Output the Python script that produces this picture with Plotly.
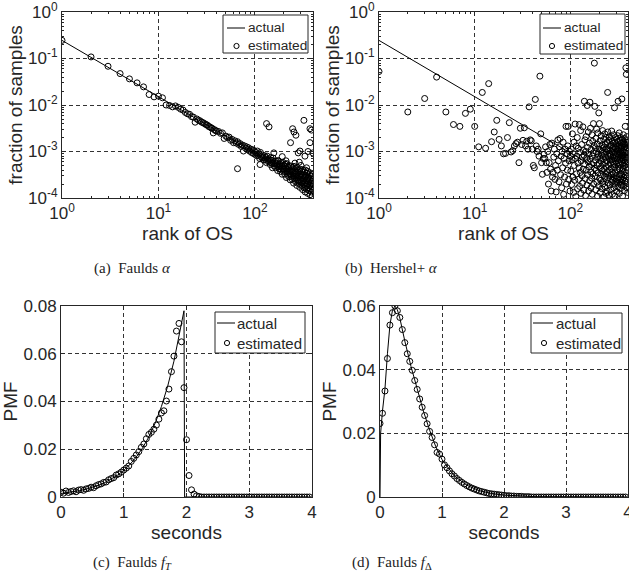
import plotly.graph_objects as go

# ---------------- data ----------------
# (a) Faulds alpha : actual Zipf line and estimated points (log10 of fraction)
rank_actual = [1, 10, 100, 400]
frac_actual = [0.245, 0.0151, 0.00093, 0.000174]

faulds_rank = list(range(1, 41)) + list(range(42, 401, 2))
faulds_log = [
    -0.61, -0.966, -1.167, -1.324, -1.438, -1.524, -1.61, -1.775, -1.825, -1.81,
    -1.845, -2.00, -2.01, -2.04, -2.02, -2.05, -2.09, -2.11, -2.16, -2.19,
    -2.20, -2.25, -2.26, -2.37, -2.30, -2.33, -2.34, -2.37, -2.38, -2.40,
    -2.42, -2.43, -2.46, -2.47, -2.49, -2.50, -2.60, -2.53, -2.55, -2.56,
    -2.57, -2.61, -2.60, -2.72, -2.67, -2.70, -2.69, -2.76, -2.74, -2.81,
    -2.77, -2.82, -2.79, -2.85, -2.83, -2.89, -2.86, -2.99, -2.88, -2.93,
    -2.90, -2.96, -2.92, -2.99, -2.95, -3.02, -2.96, -3.04, -2.98, -3.06,
    -3.02, -3.09, -2.99, -3.08, -3.05, -3.15, -3.02, -3.11, -3.14, -3.08,
    -3.12, -3.18, -3.09, -3.17, -3.13, -3.24, -3.10, -3.19, -3.22, -3.16,
    -3.19, -3.28, -3.13, -3.25, -3.19, -3.35, -3.14, -3.26, -3.31, -3.21,
    -3.26, -3.35, -3.20, -3.31, -3.26, -3.41, -3.20, -3.33, -3.37, -3.27,
    -3.31, -3.43, -3.24, -3.38, -3.31, -3.49, -3.23, -3.38, -3.43, -3.30,
    -3.37, -3.49, -3.27, -3.43, -3.35, -3.56, -3.26, -3.43, -3.49, -3.34,
    -3.42, -3.54, -3.32, -3.48, -3.40, -3.61, -3.31, -3.48, -3.54, -3.39,
    -3.45, -3.60, -3.34, -3.53, -3.43, -3.68, -3.32, -3.52, -3.59, -3.41,
    -3.49, -3.65, -3.37, -3.57, -3.46, -3.73, -3.34, -3.56, -3.63, -3.44,
    -3.53, -3.69, -3.41, -3.61, -3.50, -3.77, -3.38, -3.60, -3.67, -3.48,
    -3.56, -3.73, -3.43, -3.64, -3.53, -3.82, -3.39, -3.63, -3.71, -3.50,
    -3.59, -3.78, -3.44, -3.68, -3.55, -3.87, -3.40, -3.67, -3.75, -3.52,
    -3.62, -3.81, -3.47, -3.71, -3.58, -3.90, -3.43, -3.70, -3.78, -3.55,
    -3.65, -3.84, -3.50, -3.74, -3.61, -3.93, -3.46, -3.73, -3.81, -3.58,
    -3.68, -3.87, -3.53, -3.77, -3.64, -3.96, -3.49, -3.75, -3.83, -3.60,
]
faulds_out_rank = [66, 113, 132, 140, 157, 175, 192, 210, 234, 246, 254, 260, 266,
                   281, 288, 293, 300, 322, 330, 343, 355, 372, 372, 386, 398]
faulds_out_log = [-3.37, -3.28, -2.40, -2.47, -3.03, -3.20, -3.11, -3.20, -2.81, -2.51,
                  -2.58, -3.25, -2.65, -3.03, -3.23, -2.99, -3.30, -2.33, -3.10, -3.35,
                  -3.00, -2.51, -2.81, -2.54, -3.03]

# (b) Hershel+ alpha : estimated points for ranks 1..400 (log10 of fraction)
hershel_rank = list(range(1, 401))
hershel_log = [
    -1.28, -2.15, -1.86, -1.40, -2.15, -2.42, -2.46, -2.18, -2.09, -2.46,
    -2.90, -1.73, -2.93, -1.54, -2.79, -2.58, -2.33, -2.74, -2.88, -3.05,
    -3.04, -2.70, -2.38, -3.01, -2.98, -2.88, -2.83, -2.80, -3.24, -2.50,
    -2.85, -2.76, -2.49, -2.88, -2.78, -2.95, -2.04, -2.75, -2.77, -2.95,
    -3.30, -3.35, -1.88, -2.88, -3.00, -2.95, -3.10, -1.38, -2.62, -3.24,
    -3.49, -3.15, -3.06, -3.15, -2.90, -3.24, -3.45, -3.00, -3.70, -3.24,
    -2.85, -3.38, -3.85, -2.82, -3.55, -3.45, -3.12, -2.95, -3.60, -3.30,
    -3.87, -3.05, -3.40, -2.75, -3.20, -3.65, -2.90, -2.72, -3.50, -3.10,
    -3.78, -3.00, -3.35, -2.80, -3.92, -3.15, -3.55, -2.95, -3.25, -2.46,
    -3.70, -3.05, -3.40, -2.88, -2.46, -3.60, -3.20, -3.00, -3.85, -3.10,
    -3.42, -2.95, -3.71, -3.18, -2.62, -3.55, -3.05, -3.88, -2.80, -3.30,
    -3.62, -2.41, -3.15, -3.97, -2.88, -3.48, -3.10, -2.70, -3.80, -3.25,
    -2.93, -3.60, -3.35, -2.42, -3.75, -3.02, -3.45, -2.55, -3.90, -3.20,
    -2.85, -3.52, -3.12, -3.68, -2.47, -3.38, -2.98, -3.83, -3.08, -1.92,
    -3.27, -2.75, -3.58, -3.95, -3.00, -2.68, -3.40, -3.14, -3.72, -2.01,
    -2.91, -3.50, -3.22, -2.58, -3.85, -3.06, -3.33, -2.82, -3.63, -1.94,
    -3.16, -2.50, -3.44, -3.78, -2.96, -3.28, -3.57, -2.64, -3.92, -3.10,
    -2.78, -3.48, -3.03, -2.40, -3.70, -3.24, -2.87, -1.10, -3.36, -2.03,
    -3.53, -2.92, -3.18, -3.82, -2.72, -3.40, -3.00, -2.52, -3.66, -3.30,
    -2.84, -3.96, -3.12, -2.60, -3.46, -3.05, -3.74, -2.17, -3.26, -2.95,
    -2.40, -3.58, -3.14, -2.77, -3.88, -3.35, -2.98, -3.62, -3.20, -2.66,
    -3.50, -3.08, -3.80, -2.86, -3.42, -3.00, -2.55, -3.70, -3.28, -2.92,
    -3.64, -3.16, -2.74, -3.98, -3.38, -2.90, -3.55, -3.06, -2.62, -3.76,
    -3.24, -2.84, -3.47, -3.12, -3.90, -2.70, -3.32, -3.02, -3.60, -2.96,
    -3.20, -3.85, -2.80, -3.44, -1.73, -2.58, -3.68, -3.10, -2.94, -3.52,
    -3.30, -2.76, -3.94, -3.04, -2.68, -3.40, -3.16, -2.88, -3.72, -3.26,
    -2.98, -3.58, -3.08, -2.72, -3.82, -3.36, -2.86, -3.50, -3.18, -2.56,
    -3.66, -3.00, -3.44, -2.78, -3.92, -3.22, -2.92, -3.62, -3.12, -2.82,
    -3.48, -3.02, -2.64, -3.78, -3.28, -2.90, -3.56, -3.14, -2.06, -3.70,
    -3.34, -2.80, -3.96, -3.06, -2.70, -3.46, -3.20, -2.94, -3.64, -3.10,
    -2.84, -3.52, -3.26, -2.74, -3.86, -3.04, -2.96, -3.60, -3.16, -2.88,
    -3.40, -2.66, -3.76, -3.12, -1.92, -3.32, -3.00, -2.78, -3.68, -3.24,
    -2.92, -3.54, -3.08, -2.60, -3.90, -3.38, -2.86, -3.62, -3.18, -2.76,
    -3.48, -3.02, -3.80, -2.94, -3.28, -2.70, -3.58, -3.10, -2.88, -3.72,
    -3.22, -2.82, -3.50, -3.04, -1.87, -3.66, -3.14, -2.90, -3.42, -2.74,
    -3.96, -3.26, -3.00, -3.60, -2.80, -3.36, -3.08, -2.64, -3.74, -3.18,
    -2.96, -3.56, -3.12, -2.84, -3.44, -3.02, -3.84, -2.72, -3.30, -3.06,
    -3.64, -2.90, -3.20, -2.46, -3.52, -3.10, -2.86, -3.70, -3.28, -1.20,
    -2.94, -3.46, -3.04, -1.34, -3.62, -2.80, -3.34, -3.14, -2.68, -3.78,
    -3.22, -2.92, -3.54, -3.06, -2.76, -3.40, -3.00, -3.88, -2.84, -3.26,
]

# (c) Faulds f_T and (d) Faulds f_Delta : PMF on 0.04 s bins
seconds = [round(0.04 * i, 2) for i in range(100)]
fT_est = [
    0.0020, 0.0016, 0.0025, 0.0019, 0.0023, 0.0026, 0.0022, 0.0029, 0.0031, 0.0028,
    0.0034, 0.0036, 0.0041, 0.0039, 0.0047, 0.0052, 0.0055, 0.0061, 0.0063, 0.0072,
    0.0077, 0.0081, 0.0092, 0.0097, 0.0104, 0.0113, 0.0121, 0.0130, 0.0149, 0.0162,
    0.0176, 0.0190, 0.0208, 0.0222, 0.0244, 0.0262, 0.0271, 0.0284, 0.0301, 0.0326,
    0.0352, 0.0361, 0.0402, 0.0452, 0.0525, 0.0590, 0.0695, 0.0727, 0.0650, 0.0458,
    0.0240, 0.0090, 0.0030, 0.0012, 0.0005, 0.0002, 0.0, 0.0, 0.0, 0.0,
    0.0, 0.0, 0.0, 0.0, 0.0, 0.0, 0.0, 0.0, 0.0, 0.0,
    0.0, 0.0, 0.0, 0.0, 0.0, 0.0, 0.0, 0.0, 0.0, 0.0,
    0.0, 0.0, 0.0, 0.0, 0.0, 0.0, 0.0, 0.0, 0.0, 0.0,
    0.0, 0.0, 0.0, 0.0, 0.0, 0.0, 0.0, 0.0, 0.0, 0.0,
]
fT_line_x = [0.0, 0.1, 0.2, 0.3, 0.4, 0.5, 0.6, 0.7, 0.8, 0.9, 1.0, 1.1, 1.2,
             1.3, 1.4, 1.5, 1.6, 1.7, 1.8, 1.9, 1.96, 1.97, 4.0]
fT_line_y = [0.00146, 0.00179, 0.00219, 0.00268, 0.00329, 0.00403, 0.00494, 0.00605,
             0.00742, 0.00910, 0.01115, 0.01367, 0.01676, 0.02055, 0.02519, 0.03088,
             0.03786, 0.04641, 0.05690, 0.06976, 0.0780, 0.0, 0.0]

fD_est = [
    0.0231, 0.0263, 0.0333, 0.0435, 0.0540, 0.0579, 0.0600, 0.0585, 0.0564, 0.0526,
    0.0485, 0.0450, 0.0426, 0.0398, 0.0366, 0.0338, 0.0308, 0.0282, 0.0256, 0.0230,
    0.0206, 0.0187, 0.0164, 0.0140, 0.0135, 0.0119, 0.0101, 0.0092, 0.0082, 0.0073,
    0.0066, 0.0058, 0.0052, 0.0046, 0.0041, 0.0036, 0.0032, 0.0028, 0.0025, 0.0022,
    0.0019, 0.0017, 0.0015, 0.0013, 0.0011, 0.0010, 0.0009, 0.0008, 0.0007, 0.0006,
    0.0005, 0.0004, 0.0004, 0.0003, 0.0003, 0.0002, 0.0002, 0.0002, 0.0001, 0.0001,
    0.0001, 0.0, 0.0, 0.0, 0.0, 0.0, 0.0, 0.0, 0.0, 0.0,
    0.0, 0.0, 0.0, 0.0, 0.0, 0.0, 0.0, 0.0, 0.0, 0.0,
    0.0, 0.0, 0.0, 0.0, 0.0, 0.0, 0.0, 0.0, 0.0, 0.0,
    0.0, 0.0, 0.0, 0.0, 0.0, 0.0, 0.0, 0.0, 0.0, 0.0,
]
fD_line_x = [0.0, 0.01, 0.04, 0.08, 0.12, 0.16, 0.20, 0.24, 0.28, 0.32, 0.40, 0.50,
             0.60, 0.70, 0.80, 0.90, 1.0, 1.2, 1.4, 1.6, 1.8, 2.0, 2.5, 3.0, 4.0]
fD_line_y = [0.0, 0.020, 0.027, 0.034, 0.045, 0.054, 0.0585, 0.0600, 0.0588, 0.0562,
             0.049, 0.041, 0.034, 0.027, 0.021, 0.0158, 0.0118, 0.0066, 0.0037,
             0.0020, 0.0011, 0.0006, 0.0001, 0.00002, 0.0]

series_names = ["actual", "estimated"]
captions = ["(a)  Faulds <i>α</i>", "(b)  Hershel+ <i>α</i>",
            "(c)  Faulds <i>f</i><sub><i>T</i></sub>", "(d)  Faulds <i>f</i><sub>Δ</sub>"]

# ---------------- figure ----------------
W, H = 629, 581
ML, MR, MT, MB = 61, 0, 12, 84
INK = "#262626"
SANS = "Liberation Sans, Arial, sans-serif"


def dx(x):
    return (x - ML) / (W - ML - MR)


def dy(y):
    return 1 - (y - MT) / (H - MT - MB)


fig = go.Figure()

line_style = dict(color="black", width=1)
mark_style = dict(symbol="circle-open", size=6, color="black", line=dict(width=1))

panels = [
    ("x", "y", rank_actual, frac_actual, faulds_rank + faulds_out_rank,
     [10 ** v for v in faulds_log + faulds_out_log]),
    ("x2", "y2", rank_actual, frac_actual, hershel_rank, [10 ** v for v in hershel_log]),
    ("x3", "y3", fT_line_x, fT_line_y, seconds, fT_est),
    ("x4", "y4", fD_line_x, fD_line_y, seconds, fD_est),
]
for xa, ya, lx, ly, ex, ey in panels:
    fig.add_trace(go.Scatter(x=lx, y=ly, mode="lines", name=series_names[0],
                             line=line_style, xaxis=xa, yaxis=ya, showlegend=False))
    fig.add_trace(go.Scatter(x=ex, y=ey, mode="markers", name=series_names[1],
                             marker=mark_style, xaxis=xa, yaxis=ya, showlegend=False))

common = dict(
    showline=True, linecolor=INK, linewidth=1, mirror="ticks", automargin=False,
    ticks="inside", ticklen=4, tickwidth=1, tickcolor=INK, ticklabeloverflow="allow",
    showgrid=True, gridcolor="#333333", gridwidth=1, griddash="4px,3px",
    zeroline=False, tickfont=dict(family=SANS, size=17, color=INK),
    title_font=dict(family=SANS, size=19, color=INK),
)

log_x_minor = [m * d for d in (1, 10, 100) for m in range(2, 10) if m * d <= 400]
log_y_minor = [m * d for d in (1e-4, 1e-3, 1e-2, 1e-1) for m in range(2, 10)]
log_x = dict(type="log", range=[0, 2.602], tickmode="array", tickvals=[1, 10, 100],
             ticktext=["10<sup>0</sup>", "10<sup>1</sup>", "10<sup>2</sup>"],
             minor=dict(tickmode="array", tickvals=log_x_minor, ticks="inside",
                        ticklen=2, tickcolor=INK, showgrid=False),
             title=dict(text="rank of OS", standoff=0))
log_y = dict(type="log", range=[-4, 0], tickmode="array",
             tickvals=[1e-4, 1e-3, 1e-2, 1e-1, 1],
             ticktext=["10<sup>-4</sup>", "10<sup>-3</sup>", "10<sup>-2</sup>",
                       "10<sup>-1</sup>", "10<sup>0</sup>"],
             minor=dict(tickmode="array", tickvals=log_y_minor, ticks="inside",
                        ticklen=2, tickcolor=INK, showgrid=False),
             title=dict(text="fraction of samples", standoff=0))

top_y = [dy(198), dy(12)]
bot_y = [dy(497), dy(306)]

fig.update_layout(
    width=W, height=H, margin=dict(l=ML, r=MR, t=MT, b=MB, pad=0),
    paper_bgcolor="white", plot_bgcolor="white", showlegend=False,
    font=dict(family=SANS, color=INK),
    xaxis=dict(**common, **log_x, domain=[dx(62), dx(313)], anchor="y"),
    yaxis=dict(**common, **log_y, domain=top_y, anchor="x"),
    xaxis2=dict(**common, **log_x, domain=[dx(379), dx(628)], anchor="y2"),
    yaxis2=dict(**common, **log_y, domain=top_y, anchor="x2"),
    xaxis3=dict(**common, range=[0, 4], tickvals=[0, 1, 2, 3, 4],
                domain=[dx(61), dx(312)], anchor="y3",
                title=dict(text="seconds", standoff=2)),
    yaxis3=dict(**common, range=[0, 0.08], tickvals=[0, 0.02, 0.04, 0.06, 0.08],
                ticktext=["0", "0.02", "0.04", "0.06", "0.08"],
                domain=bot_y, anchor="x3", title=dict(text="PMF", standoff=0)),
    xaxis4=dict(**common, range=[0, 4], tickvals=[0, 1, 2, 3, 4],
                domain=[dx(380), dx(628)], anchor="y4",
                title=dict(text="seconds", standoff=2)),
    yaxis4=dict(**common, range=[0, 0.06], tickvals=[0, 0.02, 0.04, 0.06],
                ticktext=["0", "0.02", "0.04", "0.06"],
                domain=bot_y, anchor="x4", title=dict(text="PMF", standoff=0)),
)

# ---- legend boxes (one per panel), drawn in paper space ----
# (box_l, box_r, box_t, box_b, text_x, row1_y, row2_y, line_x0, line_x1, mark_x, font)
legend_boxes = [
    (223, 308, 15, 53, 247, 28, 46, 227, 245, 236.5, 13.7),
    (540, 625, 14, 54, 563, 28, 46, 543, 561, 552, 13.7),
    (215, 305, 312, 353, 236, 323, 343, 217, 235, 227, 15),
    (531, 622, 313, 353, 555, 323, 343, 533, 553, 544, 15),
]
for bl, br, bt, bb, tx, r1, r2, lx0, lx1, mx, fs in legend_boxes:
    fig.add_shape(type="rect", xref="paper", yref="paper", x0=dx(bl), x1=dx(br),
                  y0=dy(bb), y1=dy(bt), line=dict(color=INK, width=1),
                  fillcolor="white", layer="above")
    fig.add_shape(type="line", xref="paper", yref="paper", x0=dx(lx0), x1=dx(lx1),
                  y0=dy(r1), y1=dy(r1), line=dict(color="black", width=1), layer="above")
    fig.add_shape(type="circle", xref="paper", yref="paper",
                  x0=dx(mx - 2.6), x1=dx(mx + 2.6), y0=dy(r2 + 2.6), y1=dy(r2 - 2.6),
                  line=dict(color="black", width=1), fillcolor="rgba(0,0,0,0)",
                  layer="above")
    for name, ry in zip(series_names, (r1, r2)):
        fig.add_annotation(text=name, x=dx(tx), y=dy(ry), xref="paper", yref="paper",
                           showarrow=False, xanchor="left", yanchor="middle",
                           xshift=-1, font=dict(family=SANS, size=fs, color=INK))

cap_pos = [(132, 268), (391, 268), (132, 563), (392, 563)]
for text, (cx, cy) in zip(captions, cap_pos):
    fig.add_annotation(text=text, x=dx(cx), y=dy(cy), xref="paper", yref="paper",
                       showarrow=False, xanchor="center", yanchor="middle",
                       font=dict(family="Liberation Serif, Times New Roman, serif",
                                 size=15, color="#222222"))

fig.write_html("out.html",
               config={"displayModeBar": False, "staticPlot": True},
               post_script="document.body.style.margin='0';"
                           "document.body.style.padding='0';"
                           "document.body.style.overflow='hidden';")
